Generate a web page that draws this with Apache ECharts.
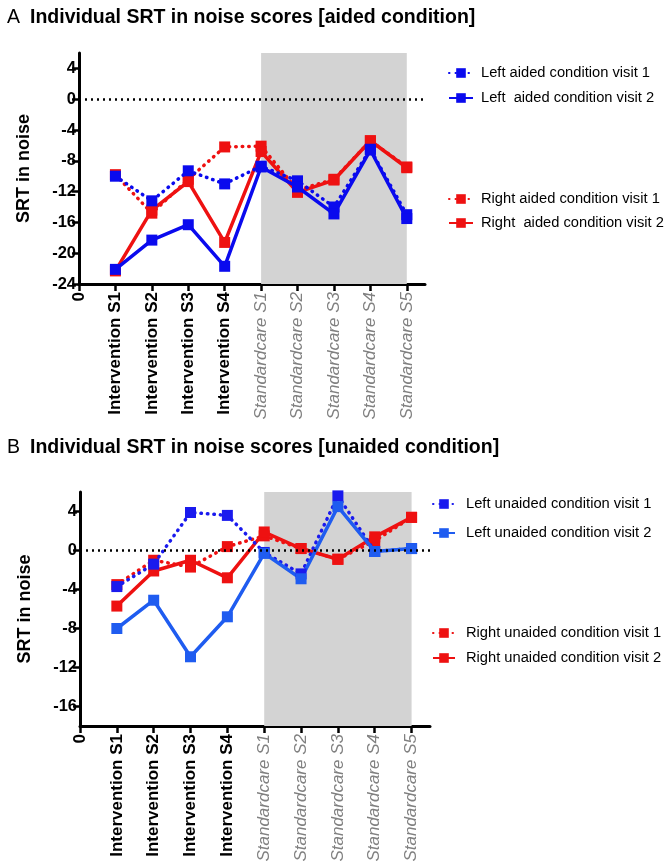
<!DOCTYPE html>
<html><head><meta charset="utf-8">
<script src="https://cdn.jsdelivr.net/npm/echarts@6/dist/echarts.min.js"></script>
<style>html,body{margin:0;padding:0;background:#fff}#c{width:666px;height:868px}</style>
</head><body><div id="c"></div>
<script>
var xLabels = ['0','Intervention S1','Intervention S2','Intervention S3','Intervention S4','Standardcare S1','Standardcare S2','Standardcare S3','Standardcare S4','Standardcare S5'];
var topYTicks = [-24,-20,-16,-12,-8,-4,0,4];
var botYTicks = [-16,-12,-8,-4,0,4];

var aLeftV1  = [-10.0, -13.2, -9.3, -11.0, -8.7, -10.6, -14.0, -6.5, -15.0];
var aLeftV2  = [-22.1, -18.3, -16.3, -21.7, -8.8, -11.4, -14.9, -6.6, -15.5];
var aRightV1 = [-9.8, -14.8, -10.4, -6.2, -6.1, -11.8, -10.4, -5.4, -8.8];
var aRightV2 = [-22.3, -14.4, -10.7, -18.6, -6.8, -12.1, -10.5, -5.4, -8.9];

var bLeftV1  = [-3.7, -1.4, 3.9, 3.6, -0.2, -2.4, 5.6, -0.1, 0.2];
var bLeftV2  = [-8.0, -5.1, -10.9, -6.8, -0.3, -2.9, 4.5, -0.1, 0.2];
var bRightV1 = [-3.5, -1.0, -1.7, 0.4, 1.5, 0.2, -0.9, 1.0, 3.4];
var bRightV2 = [-5.7, -2.1, -1.0, -2.8, 1.9, 0.2, -0.9, 1.4, 3.4];

var namesA = ['Left aided condition visit 1','Left  aided condition visit 2','Right aided condition visit 1','Right  aided condition visit 2'];
var namesB = ['Left unaided condition visit 1','Left unaided condition visit 2','Right unaided condition visit 1','Right unaided condition visit 2'];

var FONT = '"Liberation Sans", Arial, sans-serif';
function pts(arr){ return arr.map(function(v,i){ return [i+1, v]; }); }
var xTickVals = xLabels.map(function(_, i){ return i; });

function xAxisCfg(gi){
  return {
    type:'value', gridIndex:gi, min:0, max:9.5,
    axisLine:{show:true, onZero:false, lineStyle:{color:'#000', width:3}},
    axisTick:{show:true, length:7, lineStyle:{color:'#000', width:2.5}, customValues:xTickVals},
    splitLine:{show:false},
    axisLabel:{
      customValues:xTickVals, rotate:90, margin:8, fontFamily:FONT,
      formatter:function(v){
        var i = Math.round(v);
        if (i === 0) return '{z|0}';
        return (i <= 4 ? '{i|' : '{s|') + xLabels[i] + '}';
      },
      rich:{
        z:{fontFamily:FONT, fontWeight:'bold', fontSize:17, color:'#000'},
        i:{fontFamily:FONT, fontWeight:'bold', fontSize:17, color:'#000'},
        s:{fontFamily:FONT, fontStyle:'italic', fontSize:17, color:'#808080'}
      }
    }
  };
}
function yAxisCfg(gi, min, ticks){
  return {
    type:'value', gridIndex:gi, min:min, max:6,
    name:'SRT in noise', nameLocation:'middle', nameRotate:90, nameGap:46,
    nameTextStyle:{fontFamily:FONT, fontWeight:'bold', fontSize:18, color:'#000'},
    axisLine:{show:true, lineStyle:{color:'#000', width:3}},
    axisTick:{show:true, length:7, lineStyle:{color:'#000', width:2.5}, customValues:ticks},
    splitLine:{show:false},
    axisLabel:{customValues:ticks, margin:3, fontFamily:FONT, fontWeight:'bold', fontSize:16.5, color:'#000'}
  };
}
function bgSeries(gi){
  return {
    type:'line', xAxisIndex:gi, yAxisIndex:gi, data:[], z:1, silent:true,
    markArea:{silent:true, itemStyle:{color:'#d3d3d3'}, data:[[{xAxis:5},{xAxis:9}]]},
    markLine:{silent:true, symbol:'none', label:{show:false},
      lineStyle:{color:'#000', width:2.5, type:[2,4]}, data:[{yAxis:0}]}
  };
}
function lineSeries(gi, name, arr, color, dotted, z){
  return {
    type:'line', name:name, xAxisIndex:gi, yAxisIndex:gi, data:pts(arr), z:z,
    symbol:'rect', symbolSize:11, showSymbol:true,
    itemStyle:{color:color},
    lineStyle: dotted ? {color:color, width:3.5, type:[0.5,6], cap:'round'} : {color:color, width:3.5},
    emphasis:{disabled:true}
  };
}
function legendCfg(names, left, top, gap, w, pad){
  return {
    data:names, orient:'vertical', left:left, top:top, itemGap:gap,
    itemWidth:w, itemHeight:12, selectedMode:false,
    textStyle:{fontFamily:FONT, fontSize:14.7, lineHeight:16, color:'#000', padding:[0,0,0,pad]}
  };
}

var chart = echarts.init(document.getElementById('c'), null, {renderer:'canvas'});
chart.setOption({
  animation:false,
  backgroundColor:'#fff',
  title:[
    {text:'A', left:2, top:3, textStyle:{fontFamily:FONT, fontWeight:'normal', fontSize:19.5, color:'#000'}},
    {text:'Individual SRT in noise scores [aided condition]', left:25, top:3, textStyle:{fontFamily:FONT, fontWeight:'bold', fontSize:19.5, color:'#000'}},
    {text:'B', left:2, top:433, textStyle:{fontFamily:FONT, fontWeight:'normal', fontSize:19.5, color:'#000'}},
    {text:'Individual SRT in noise scores [unaided condition]', left:25, top:433, textStyle:{fontFamily:FONT, fontWeight:'bold', fontSize:19.5, color:'#000'}}
  ],
  grid:[
    {left:79, top:53, width:346, height:231},
    {left:80, top:492, width:350, height:234}
  ],
  xAxis:[xAxisCfg(0), xAxisCfg(1)],
  yAxis:[yAxisCfg(0, -24, topYTicks), yAxisCfg(1, -18, botYTicks)],
  legend:[
    legendCfg([namesA[0], namesA[1]], 443, 60, 9, 24, 3),
    legendCfg([namesA[2], namesA[3]], 443, 186, 8, 24, 3),
    legendCfg([namesB[0], namesB[1]], 427, 491, 13, 22, 6),
    legendCfg([namesB[2], namesB[3]], 427, 620, 9, 22, 6)
  ],
  series:[
    bgSeries(0),
    lineSeries(0, namesA[2], aRightV1, '#ee1111', true, 3),
    lineSeries(0, namesA[3], aRightV2, '#ee1111', false, 3),
    lineSeries(0, namesA[0], aLeftV1, '#0a0aee', true, 4),
    lineSeries(0, namesA[1], aLeftV2, '#0a0aee', false, 4),
    bgSeries(1),
    lineSeries(1, namesB[2], bRightV1, '#ee1111', true, 3),
    lineSeries(1, namesB[3], bRightV2, '#ee1111', false, 3),
    lineSeries(1, namesB[0], bLeftV1, '#1a1aee', true, 4),
    lineSeries(1, namesB[1], bLeftV2, '#1f5cf0', false, 4)
  ]
});
</script></body></html>
